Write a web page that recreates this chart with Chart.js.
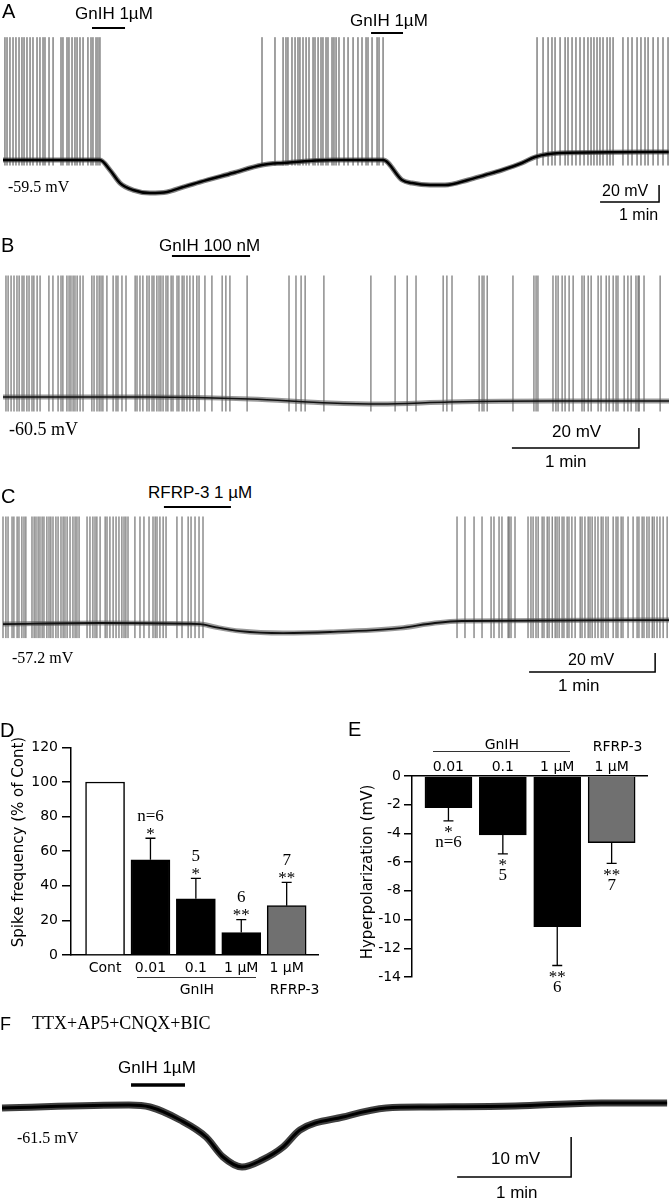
<!DOCTYPE html>
<html>
<head>
<meta charset="utf-8">
<script src="https://cdn.jsdelivr.net/npm/chart.js@4.4.1/dist/chart.umd.min.js"></script>
<style>
    body { margin: 0; background: #fff; }
    #fig { position: relative; width: 669px; height: 1199px; overflow: hidden; background: #fff; }
    canvas.pane { position: absolute; }
    .t { position: absolute; white-space: nowrap; line-height: 1; color: #000; transform: translateY(-50%); z-index: 2; }
    .sans { font-family: "Liberation Sans", Arial, sans-serif; }
    .serif { font-family: "Liberation Serif", "Times New Roman", serif; }
    .dv { font-family: "DejaVu Sans", sans-serif; }
    .hline { position: absolute; height: 0; border-top: 1px solid #333; z-index: 2; }
</style>
</head>
<body>
<div id="fig">
    <canvas id="traceA" class="pane" width="669" height="190" style="left:0;top:20px"></canvas>
    <canvas id="traceB" class="pane" width="669" height="200" style="left:0;top:250px"></canvas>
    <canvas id="traceC" class="pane" width="669" height="175" style="left:0;top:505px"></canvas>
    <canvas id="barD" class="pane" width="335" height="240" style="left:0;top:735px"></canvas>
    <canvas id="barE" class="pane" width="334" height="260" style="left:335px;top:735px"></canvas>
    <canvas id="traceF" class="pane" width="669" height="110" style="left:0;top:1075px"></canvas>
</div>
<script>
// ---- panel A: time (s), membrane potential (mV)
var a_spikes = [2.0, 4.1, 7.1, 10.2, 13.2, 16.3, 19.3, 21.4, 24.4, 27.5, 30.5, 34.6, 37.6, 40.7, 42.7, 46.8, 50.9,
    59.0, 61.0, 65.1, 67.1, 70.2, 73.2, 75.3, 78.3, 81.4, 86.4, 89.5, 91.5, 94.6, 96.6, 98.6,
    263.4,
    276.6, 284.8, 287.8, 289.8, 293.9, 297.0, 300.0, 302.0, 305.1, 308.2, 311.2, 315.3, 317.3, 320.4, 323.4, 325.4,
    328.5, 330.5, 334.6, 336.6, 338.7, 341.7, 346.8, 350.9, 356.0, 361.0, 365.1, 369.2, 371.2, 375.3, 380.4, 382.4, 386.5,
    543.1, 549.2, 554.3, 558.3, 561.4, 566.5, 571.6, 574.6, 578.7, 582.7, 586.8, 590.9, 594.9, 598.0, 601.0, 604.1,
    607.1, 610.2, 614.3, 617.3, 620.4, 630.5, 635.6, 639.7, 644.8, 648.8, 652.9, 656.0, 661.1, 666.1, 671.2, 676.3];
var a_base_t = [0, 98.6, 108.8, 119.0, 132.2, 149.5, 166.8, 183.1, 200.3, 233.9, 263.4, 284.8, 335.6, 386.5,
    405.8, 416.0, 434.3, 449.5, 472.9, 490.2, 507.5, 527.8, 541.0, 566.5, 677];
var a_base_v = [-59.5, -59.5, -71.3, -86.6, -94.8, -98.3, -97.1, -91.3, -85.4, -74.8, -65.4, -63.0, -59.5, -59.5,
    -83.0, -86.6, -88.9, -88.9, -83.0, -77.2, -71.3, -63.0, -56.0, -51.3, -50.1];
var a_drug = [[90.5, 124.1, 95.8], [374.3, 406.8, 89.9]]; // start s, end s, level mV
var a_scale = [667.2, -88.9, 60, 20]; // corner s, top mV, 1 min, 20 mV

// ---- panel B
var b_spikes = [1.4, 2.4, 3.8, 5.2, 6.6, 7.6, 9.0, 9.9, 11.3, 12.3, 13.7, 14.6, 16.1, 17.5, 21.7, 23.6, 26.0, 27.4,
    28.3, 30.2, 31.2, 32.1, 33.1, 34.0, 35.0, 36.4, 37.8, 42.0, 43.0, 44.4, 45.4, 46.3, 47.2, 49.1, 52.0, 53.4, 54.3,
    56.2, 58.1, 62.4, 63.3, 64.7, 66.1, 68.0, 69.0, 70.4, 71.3, 72.7, 73.7, 74.6, 75.6, 77.0, 77.9, 79.4, 80.3, 82.2,
    83.1, 84.6, 85.5, 86.9, 88.3, 89.8, 91.6, 92.6, 95.4, 98.7, 103.5, 105.3, 107.2, 115.3, 135.1, 138.4, 140.8,
    142.7, 151.6, 173.8, 185.2, 190.9, 195.1, 207.9, 209.7, 212.1, 224.9, 226.3, 227.2, 228.7, 240.9, 250.8, 251.8,
    252.7, 259.8, 261.2, 262.2, 264.1, 265.5, 267.4, 269.3, 273.5, 274.5, 276.4, 277.8, 281.1, 282.5, 284.9, 286.3,
    288.2, 289.6, 290.5, 293.4, 295.2, 296.7, 299.0, 300.0, 300.5, 302.8, 310.4];
var b_base_t = [0, 69.4, 116.7, 154.5, 178.1, 211.1, 258.3, 314.6];
var b_base_v = [-57.5, -57.5, -59.5, -63.5, -64.5, -62.5, -61.5, -61.5];
var b_drug = [[79.8, 116.7, 83.5]];
var b_scale = [300.4, -88.5, 60, 20];

// ---- panel C
var c_spikes = [0, 1.4, 2.4, 4.3, 5.2, 6.7, 7.6, 9.0, 10.0, 10.9, 13.8, 14.8, 15.7, 16.7, 17.6, 18.6, 19.5, 20.9,
    21.9, 22.8, 23.8, 25.2, 26.2, 27.6, 28.6, 29.5, 30.5, 31.9, 33.3, 34.3, 35.2, 36.2, 40.0, 41.4, 42.8, 43.8, 44.7,
    46.2, 48.6, 49.5, 50.9, 52.4, 53.8, 55.2, 56.6, 57.6, 58.5, 59.5, 62.8, 65.2, 67.1, 69.5, 71.4, 72.4, 73.3, 74.7,
    76.2, 77.6, 82.8, 85.2, 88.1, 89.5, 91.4, 93.3, 95.2,
    216.1, 219.9, 224.2, 228.0, 232.3, 233.7, 236.1, 237.5, 240.4, 240.9, 241.8, 243.7, 249.9, 251.3, 252.3, 253.7,
    254.7, 256.6, 257.5, 259.0, 259.9, 261.4, 262.8, 263.7, 264.7, 266.1, 267.0, 268.5, 269.4, 270.8, 272.3, 274.7,
    275.6, 277.0, 278.5, 279.4, 280.4, 281.8, 283.2, 284.7, 285.6, 287.0, 288.0, 290.4, 291.8, 292.7, 294.2, 295.1,
    297.5, 299.9, 301.8, 302.7, 304.2, 305.1, 306.5, 307.5, 309.0, 309.9, 311.3, 312.7, 314.2, 316.1];
var c_base_t = [0, 46.2, 93.8, 100.9, 112.8, 133.3, 155.7, 189.0, 205.6, 218.5, 317];
var c_base_v = [-57.2, -56.1, -57.2, -60.4, -64.6, -66.7, -65.6, -61.4, -56.1, -54.0, -53.0];
var c_drug = [[76.6, 108.5, 66.0]];
var c_scale = [310.4, -87.7, 60, 20];

// ---- panel F (no spikes, TTX)
var f_base_t = [0, 66.8, 77.9, 93.7, 107.4, 116.3, 126.3, 136.8, 147.9, 156.8, 179.5, 202.1, 224.7, 270.0, 315.3, 350.0];
var f_base_v = [-61.75, -61.0, -61.5, -64.75, -69.0, -74.0, -76.5, -74.75, -71.5, -67.25, -64.0, -61.75, -61.5,
    -61.25, -60.5, -60.5];
var f_drug = [[67.9, 96.3, -56.0]];
var f_scale = [299.5, -69.0, 60, 10];

// ---- panel D: spike frequency (% of Cont)
var d_labels = ["Cont", "0.01", "0.1", "1 \u00b5M", "1 \u00b5M"];
var d_vals = [100, 55, 32.5, 13, 28.5];
var d_errs = [0, 12.5, 11.8, 7.5, 13.5];
var d_notes = [[], ["*", "n=6"], ["*", "5"], ["**", "6"], ["**", "7"]];

// ---- panel E: hyperpolarization (mV)
var e_labels = ["0.01", "0.1", "1 \u00b5M", "1 \u00b5M"];
var e_vals = [-2.2, -4.1, -10.5, -4.65];
var e_errs = [0.93, 1.33, 2.7, 1.43];
var e_notes = [["*", "n=6"], ["*", "5"], ["**", "6"], ["**", "7"]];

Chart.defaults.font.family = "DejaVu Sans";
Chart.defaults.color = "#000";
var fig = document.getElementById("fig");

function put_text(txt, x, y, cls, size, centered) {
    var el = document.createElement("div");
    el.className = "t " + cls;
    el.textContent = txt;
    el.style.fontSize = size + "px";
    el.style.left = x + "px";
    el.style.top = y + "px";
    if (centered) el.style.transform = "translate(-50%,-50%)";
    fig.appendChild(el);
    return el;
}

function put_vtext(txt, x, y, cls, size) {
    var el = put_text(txt, x, y, cls, size, true);
    el.style.transform = "translate(-50%,-50%) rotate(-90deg)";
}

function put_line(x0, x1, y) {
    var el = document.createElement("div");
    el.className = "hline";
    el.style.left = x0 + "px";
    el.style.top = y + "px";
    el.style.width = (x1 - x0) + "px";
    fig.appendChild(el);
}

function init_trace_plot(canvas_id, tr, st) {
    var ctx = document.getElementById(canvas_id).getContext("2d");
    var base = tr.base_t.map(function (t, i) { return { x: t, y: tr.base_v[i] }; });
    var spikes = [];
    tr.spikes.forEach(function (t) {
        spikes.push({ x: t, y: st.foot }, { x: t, y: st.peak }, { x: t, y: null });
    });
    var drug = [];
    tr.drug.forEach(function (d) {
        drug.push({ x: d[0], y: d[2] }, { x: d[1], y: d[2] }, { x: d[1], y: null });
    });
    var sb = tr.scale;
    var bar = [{ x: sb[0] - sb[2], y: sb[1] - sb[3] }, { x: sb[0], y: sb[1] - sb[3] }, { x: sb[0], y: sb[1] }];

    const config = {
        type: "line",
        data: {
            datasets: [
                { data: base, borderColor: st.color, borderWidth: st.width, cubicInterpolationMode: "monotone", order: 0 },
                { data: drug, borderColor: "#000", borderWidth: st.drug, order: 0 },
                { data: bar, borderColor: "#000", borderWidth: 1.5, order: 0 },
                { data: spikes, borderColor: st.spike, borderWidth: 1, order: 1 },
                { data: base, borderColor: st.band, borderWidth: st.bandWidth, cubicInterpolationMode: "monotone", order: 2 }
            ]
        },
        options: {
            responsive: false,
            animation: false,
            devicePixelRatio: 1,
            events: [],
            layout: { padding: 0 },
            elements: { point: { radius: 0 }, line: { borderCapStyle: "butt" } },
            plugins: { legend: { display: false }, tooltip: { enabled: false } },
            scales: {
                x: { type: "linear", display: false, min: st.xmin, max: st.xmax },
                y: { display: false, min: st.ymin, max: st.ymax }
            }
        }
    };
    return new Chart(ctx, config);
}

function errbar_plugin(values, errors, notes, dir) {
    return {
        id: "errbars",
        afterDatasetsDraw: function (chart) {
            var ctx = chart.ctx;
            var xs = chart.scales.x, ys = chart.scales.y;
            ctx.save();
            ctx.strokeStyle = "#000";
            ctx.fillStyle = "#000";
            ctx.lineWidth = 1.3;
            ctx.textAlign = "center";
            ctx.textBaseline = "middle";
            ctx.font = '17px "Liberation Serif"';
            for (var i = 0; i < values.length; i++) {
                var px = xs.getPixelForValue(i + 1);
                var y0 = ys.getPixelForValue(values[i]);
                var y1 = ys.getPixelForValue(values[i] + dir * errors[i]);
                if (errors[i] > 0) {
                    ctx.beginPath();
                    ctx.moveTo(px, y0);
                    ctx.lineTo(px, y1);
                    ctx.moveTo(px - 5, y1);
                    ctx.lineTo(px + 5, y1);
                    ctx.stroke();
                }
                var offs = [8, 22];
                for (var k = 0; k < notes[i].length; k++) {
                    var txt = notes[i][k];
                    var yy = y1 - dir * offs[k];
                    if (txt.indexOf("*") >= 0) yy += 4;
                    ctx.fillText(txt, px, yy);
                }
            }
            ctx.restore();
        }
    };
}

function init_bar_plot(canvas_id, vals, errs, notes, colors, sc) {
    var ctx = document.getElementById(canvas_id).getContext("2d");
    var data = vals.map(function (v, i) { return { x: i + 1, y: v }; });
    var dir = vals[0] < 0 ? -1 : 1;
    const config = {
        type: "bar",
        data: {
            datasets: [{
                data: data,
                backgroundColor: colors,
                borderColor: "#000",
                borderWidth: 1.5,
                barThickness: sc.barw
            }]
        },
        options: {
            responsive: false,
            animation: false,
            devicePixelRatio: 1,
            events: [],
            layout: { padding: sc.pad },
            plugins: { legend: { display: false }, tooltip: { enabled: false } },
            scales: {
                x: {
                    type: "linear",
                    position: sc.xpos,
                    offset: false,
                    min: sc.xmin,
                    max: sc.xmax,
                    ticks: { display: false },
                    grid: { display: false, offset: false },
                    border: { display: true, color: "#000", width: 1.5 },
                    afterFit: function (a) { a.height = 0; }
                },
                y: {
                    min: sc.ymin,
                    max: sc.ymax,
                    ticks: { stepSize: sc.step, color: "#000", font: { family: "DejaVu Sans", size: 14 }, padding: sc.tickPad },
                    grid: { drawOnChartArea: false, drawTicks: true, tickLength: sc.tickLen, color: "#000", lineWidth: 1.5 },
                    border: { display: true, color: "#000", width: 1.5 },
                    afterFit: function (a) { a.width = sc.yw; }
                }
            }
        },
        plugins: [errbar_plugin(vals, errs, notes, dir)]
    };
    return new Chart(ctx, config);
}

// ---- traces
init_trace_plot("traceA", { spikes: a_spikes, base_t: a_base_t, base_v: a_base_v, drug: a_drug, scale: a_scale },
    { xmin: -3.05, xmax: 677.3, ymin: -118.3, ymax: 105.2, foot: -66, peak: 85,
      color: "#000", width: 2.5, band: "rgba(0,0,0,0.5)", bandWidth: 5, spike: "#444", drug: 2 });
init_trace_plot("traceB", { spikes: b_spikes, base_t: b_base_t, base_v: b_base_v, drug: b_drug, scale: b_scale },
    { xmin: -1.42, xmax: 314.6, ymin: -110.5, ymax: 89.5, foot: -72, peak: 64,
      color: "#111", width: 1.6, band: "rgba(0,0,0,0.4)", bandWidth: 5, spike: "#555", drug: 2 });
init_trace_plot("traceC", { spikes: c_spikes, base_t: c_base_t, base_v: c_base_v, drug: c_drug, scale: c_scale },
    { xmin: -1.43, xmax: 317.0, ymin: -116.1, ymax: 68.1, foot: -72, peak: 56,
      color: "#111", width: 1.8, band: "rgba(0,0,0,0.4)", bandWidth: 5, spike: "#555", drug: 2 });
init_trace_plot("traceF", { spikes: [], base_t: f_base_t, base_v: f_base_v, drug: f_drug, scale: f_scale },
    { xmin: -1.05, xmax: 351, ymin: -81, ymax: -53.5, foot: 0, peak: 0,
      color: "#000", width: 3, band: "rgba(0,0,0,0.75)", bandWidth: 7, spike: "#555", drug: 3.5 });

// ---- bar charts
var chartD = init_bar_plot("barD", d_vals, d_errs, d_notes, ["#fff", "#000", "#000", "#000", "#707070"],
    { barw: 39, pad: { left: 0, top: 10, right: 17, bottom: 20 }, xpos: "bottom", xmin: 0.25, xmax: 5.69,
      ymin: 0, ymax: 120, step: 20, tickPad: 4, tickLen: 9, yw: 71 });
var chartE = init_bar_plot("barE", e_vals, e_errs, e_notes, ["#000", "#000", "#000", "#707070"],
    { barw: 47, pad: { left: 0, top: 41, right: 22, bottom: 18 }, xpos: "top", xmin: 0.33, xmax: 4.65,
      ymin: -14, ymax: 0, step: 2, tickPad: 3, tickLen: 8, yw: 77 });

// category labels placed from the charts' own x scales
d_labels.forEach(function (l, i) {
    put_text(l, chartD.scales.x.getPixelForValue(i + 1), 967, "dv", 14, true);
});
var gd0 = chartD.scales.x.getPixelForValue(2) - 13, gd1 = chartD.scales.x.getPixelForValue(4) + 15;
put_line(gd0, gd1, 977);
put_text("GnIH", (gd0 + gd1) / 2, 989, "dv", 14, true);
put_text("RFRP-3", chartD.scales.x.getPixelForValue(5) + 8, 989, "dv", 14, true);

e_labels.forEach(function (l, i) {
    put_text(l, 335 + chartE.scales.x.getPixelForValue(i + 1), 766, "dv", 14, true);
});
var ge0 = 335 + chartE.scales.x.getPixelForValue(1) - 15, ge1 = 335 + chartE.scales.x.getPixelForValue(3) + 13;
put_line(ge0, ge1, 751);
put_text("GnIH", (ge0 + ge1) / 2, 744, "dv", 14, true);
put_text("RFRP-3", 335 + chartE.scales.x.getPixelForValue(4) + 6, 746, "dv", 14, true);

put_vtext("Spike frequency (% of Cont)", 18, 842, "dv", 15);
put_vtext("Hyperpolarization (mV)", 367, 872, "dv", 15);

// ---- panel letters and annotations
put_text("A", 2, 11, "sans", 20);
put_text("GnIH 1\u00b5M", 75, 13, "sans", 17);
put_text("GnIH 1\u00b5M", 350, 20, "sans", 17);
put_text("-59.5 mV", 8, 187, "serif", 16);
put_text("20 mV", 602, 191, "sans", 16);
put_text("1 min", 619, 215, "sans", 16);

put_text("B", 1, 245, "sans", 20);
put_text("GnIH 100 nM", 159, 245, "sans", 17);
put_text("-60.5 mV", 9, 429, "serif", 18);
put_text("20 mV", 552, 431, "sans", 17);
put_text("1 min", 545, 461, "sans", 17);

put_text("C", 1, 496, "sans", 20);
put_text("RFRP-3 1 \u00b5M", 148, 492, "sans", 17);
put_text("-57.2 mV", 12, 658, "serif", 16);
put_text("20 mV", 568, 660, "sans", 16);
put_text("1 min", 558, 685, "sans", 17);

put_text("D", 0, 730, "sans", 20);
put_text("E", 348, 729, "sans", 20);

put_text("F", 0, 1024, "sans", 18);
put_text("TTX+AP5+CNQX+BIC", 32, 1023, "serif", 18);
put_text("GnIH 1\u00b5M", 118, 1067, "sans", 17);
put_text("-61.5 mV", 17, 1138, "serif", 16);
put_text("10 mV", 491, 1158, "sans", 17);
put_text("1 min", 496, 1192, "sans", 17);
</script>
</body>
</html>
